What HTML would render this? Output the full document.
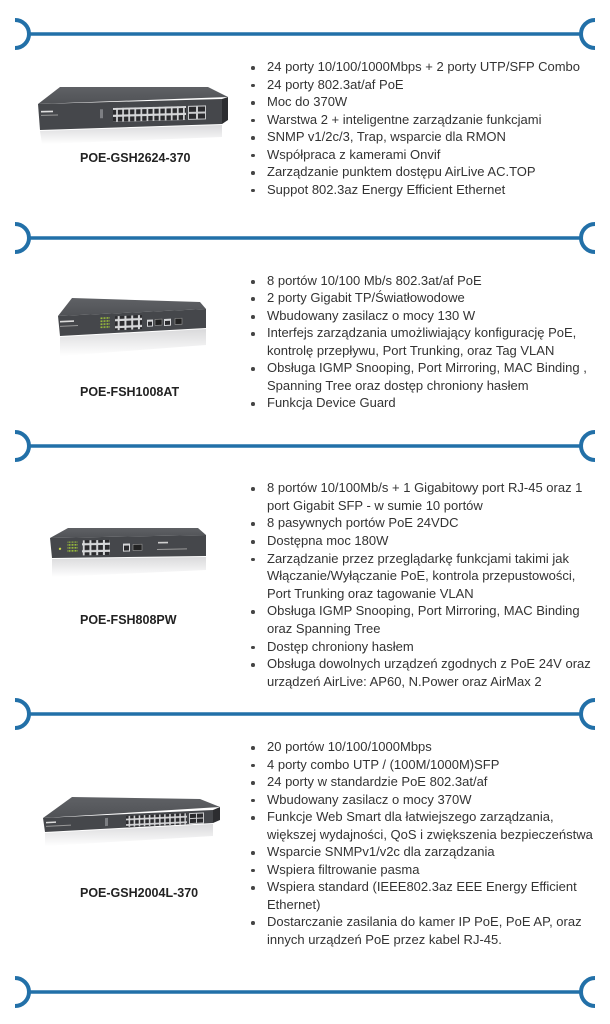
<!DOCTYPE html>
<html>
<head>
<meta charset="utf-8">
<style>
html,body{margin:0;padding:0;background:#fff;}
body{width:610px;height:1024px;position:relative;overflow:hidden;}
svg.bg{position:absolute;left:0;top:0;}
.list{position:absolute;left:267px;font-family:"Liberation Sans","DejaVu Sans",sans-serif;font-size:13px;line-height:17.6px;color:#333;white-space:nowrap;}
.li{position:relative;}
.li::before{content:"";position:absolute;left:-16px;top:8px;width:3.6px;height:3.6px;border-radius:50%;background:#444;}
.name{position:absolute;left:80px;font-family:"Liberation Sans","DejaVu Sans",sans-serif;font-weight:bold;font-size:12.5px;line-height:18px;color:#222;white-space:nowrap;}
</style>
</head>
<body>
<svg class="bg" width="610" height="1024" viewBox="0 0 610 1024" xmlns="http://www.w3.org/2000/svg">
<defs>
<linearGradient id="refl" x1="0" y1="0" x2="0" y2="1">
<stop offset="0" stop-color="#d9d9db"/>
<stop offset="1" stop-color="#ffffff"/>
</linearGradient>
<linearGradient id="topg" x1="0" y1="0" x2="0" y2="1">
<stop offset="0" stop-color="#5f6165"/>
<stop offset="1" stop-color="#505256"/>
</linearGradient>
<pattern id="p1" patternUnits="userSpaceOnUse" width="6.08" height="7">
<rect width="6.08" height="7" fill="#d6d7d9"/>
<rect x="0.8" y="1" width="4.4" height="4.8" fill="#2b2b2e"/>
</pattern>
<pattern id="p2" patternUnits="userSpaceOnUse" width="6.75" height="7">
<rect width="6.75" height="7" fill="#d6d7d9"/>
<rect x="0.9" y="1" width="4.8" height="4.8" fill="#2b2b2e"/>
</pattern>
<pattern id="p4" patternUnits="userSpaceOnUse" width="5.08" height="5.5">
<rect width="5.08" height="5.5" fill="#d6d7d9"/>
<rect x="0.7" y="0.8" width="3.6" height="3.8" fill="#2b2b2e"/>
</pattern>
<pattern id="led" patternUnits="userSpaceOnUse" width="3" height="3">
<rect width="3" height="3" fill="#45474b"/>
<rect x="0.5" y="0.5" width="2" height="1.6" fill="#9bbf3a"/>
</pattern>
</defs>

<!-- dividers -->
<g stroke="#2270a8" fill="none">
<line x1="28" y1="34" x2="582" y2="34" stroke-width="3.5"/>
<path d="M15 20 A14 14 0 0 1 15 48" stroke-width="4"/>
<path d="M595 20 A14 14 0 0 0 595 48" stroke-width="4"/>

<line x1="28" y1="238" x2="582" y2="238" stroke-width="3.5"/>
<path d="M15 224 A14 14 0 0 1 15 252" stroke-width="4"/>
<path d="M595 224 A14 14 0 0 0 595 252" stroke-width="4"/>

<line x1="28" y1="446" x2="582" y2="446" stroke-width="3.5"/>
<path d="M15 432 A14 14 0 0 1 15 460" stroke-width="4"/>
<path d="M595 432 A14 14 0 0 0 595 460" stroke-width="4"/>

<line x1="28" y1="714" x2="582" y2="714" stroke-width="3.5"/>
<path d="M15 700 A14 14 0 0 1 15 728" stroke-width="4"/>
<path d="M595 700 A14 14 0 0 0 595 728" stroke-width="4"/>

<line x1="28" y1="992" x2="582" y2="992" stroke-width="3.5"/>
<path d="M15 978 A14 14 0 0 1 15 1006" stroke-width="4"/>
<path d="M595 978 A14 14 0 0 0 595 1006" stroke-width="4"/>
</g>

<!-- switch 1 -->
<polygon points="40,131 222,125 222,137 42,144" fill="url(#refl)"/>
<polygon points="60,87 208,87 228,97 38,104" fill="url(#topg)"/>
<polygon points="38,104 222,99 222,124 40,130" fill="#45474b"/>
<polygon points="222,99 228,97 228,120 222,124" fill="#2c2d30"/>
<g transform="translate(38,104) skewY(-1.56)">
<rect x="3" y="7" width="12" height="1.6" fill="#e0e0e0"/>
<rect x="3" y="11" width="17" height="1" fill="#9a9a9a"/>
<rect x="62" y="7" width="3" height="9" fill="#7d7f83"/>
<rect x="75" y="6" width="73" height="14" fill="url(#p1)"/>
<rect x="150" y="6" width="18" height="14" fill="#c9cacc"/>
<rect x="151" y="7" width="7" height="5" fill="#2b2b2e"/>
<rect x="160" y="7" width="7" height="5" fill="#2b2b2e"/>
<rect x="151" y="14" width="7" height="5" fill="#2b2b2e"/>
<rect x="160" y="14" width="7" height="5" fill="#2b2b2e"/>
</g>

<!-- switch 2 -->
<polygon points="60,337 206,329 206,345 60,356" fill="url(#refl)"/>
<polygon points="72,298 200,302 206,309 58,316" fill="url(#topg)"/>
<polygon points="58,316 206,309 206,328 60,336" fill="#45474b"/>
<g transform="translate(58,316) skewY(-2.7)">
<rect x="2" y="5" width="14" height="1.6" fill="#dcdcdc"/>
<rect x="2" y="10" width="18" height="1" fill="#999"/>
<rect x="42" y="3" width="10" height="12" fill="url(#led)"/>
<rect x="57" y="3" width="27" height="14" fill="url(#p2)"/>
<rect x="89" y="8" width="6" height="7" fill="#d6d7d9"/>
<rect x="90" y="10" width="4" height="4" fill="#2b2b2e"/>
<rect x="97" y="8" width="7" height="6" fill="#222" stroke="#999" stroke-width="0.6"/>
<rect x="106" y="8" width="7" height="7" fill="#d6d7d9"/>
<rect x="107" y="10" width="5" height="4" fill="#2b2b2e"/>
<rect x="117" y="8" width="7" height="6" fill="#222" stroke="#999" stroke-width="0.6"/>
</g>

<!-- switch 3 -->
<polygon points="52,559 206,557 206,570 52,577" fill="url(#refl)"/>
<polygon points="68,528 198,528 206,535 50,538" fill="url(#topg)"/>
<polygon points="50,538 206,535 206,556 52,558" fill="#45474b"/>
<g transform="translate(50,538) skewY(-1.1)">
<circle cx="10" cy="11" r="1.2" fill="#c8d84a"/>
<rect x="17" y="4" width="11" height="11" fill="url(#led)"/>
<rect x="32" y="3" width="28" height="15" fill="url(#p2)"/>
<rect x="73" y="7" width="7" height="8" fill="#d6d7d9"/>
<rect x="74" y="9" width="5" height="5" fill="#2b2b2e"/>
<rect x="83" y="8" width="9" height="6" fill="#222" stroke="#999" stroke-width="0.6"/>
<rect x="108" y="6" width="10" height="1.6" fill="#cfcfcf"/>
<rect x="107" y="13" width="30" height="1" fill="#9a9a9a"/>
</g>

<!-- switch 4 -->
<polygon points="45,833 213,824 213,836 45,846" fill="url(#refl)"/>
<polygon points="72,797 200,799 220,807 43,818" fill="url(#topg)"/>
<polygon points="43,818 213,810 213,823 45,832" fill="#45474b"/>
<polygon points="213,810 220,807 220,820 213,823" fill="#2c2d30"/>
<g transform="translate(43,818) skewY(-2.7)">
<rect x="3" y="4" width="10" height="1.5" fill="#dcdcdc"/>
<rect x="3" y="8" width="25" height="1" fill="#999"/>
<rect x="62" y="3" width="3" height="8" fill="#7d7f83"/>
<rect x="83" y="2" width="61" height="11" fill="url(#p4)"/>
<rect x="146" y="2" width="15" height="11" fill="#c9cacc"/>
<rect x="147" y="3" width="6" height="4" fill="#2b2b2e"/>
<rect x="154" y="3" width="6" height="4" fill="#2b2b2e"/>
<rect x="147" y="8" width="6" height="4" fill="#2b2b2e"/>
<rect x="154" y="8" width="6" height="4" fill="#2b2b2e"/>
</g>
</svg>

<!-- section 1 -->
<div class="name" style="top:149px;">POE-GSH2624-370</div>
<div class="list" style="top:58px;line-height:17.5px;">
<div class="li">24 porty 10/100/1000Mbps + 2 porty UTP/SFP Combo</div>
<div class="li">24 porty 802.3at/af PoE</div>
<div class="li">Moc do 370W</div>
<div class="li">Warstwa 2 + inteligentne zarządzanie funkcjami</div>
<div class="li">SNMP v1/2c/3, Trap, wsparcie dla RMON</div>
<div class="li">Współpraca z kamerami Onvif</div>
<div class="li">Zarządzanie punktem dostępu AirLive AC.TOP</div>
<div class="li">Suppot 802.3az Energy Efficient Ethernet</div>
</div>

<!-- section 2 -->
<div class="name" style="top:383px;">POE-FSH1008AT</div>
<div class="list" style="top:272px;line-height:17.45px;">
<div class="li">8 portów 10/100 Mb/s 802.3at/af PoE</div>
<div class="li">2 porty Gigabit TP/Światłowodowe</div>
<div class="li">Wbudowany zasilacz o mocy 130 W</div>
<div class="li">Interfejs zarządzania umożliwiający konfigurację PoE,<br>kontrolę przepływu, Port Trunking, oraz Tag VLAN</div>
<div class="li">Obsługa IGMP Snooping, Port Mirroring, MAC Binding ,<br>Spanning Tree oraz dostęp chroniony hasłem</div>
<div class="li">Funkcja Device Guard</div>
</div>

<!-- section 3 -->
<div class="name" style="top:611px;">POE-FSH808PW</div>
<div class="list" style="top:479px;line-height:17.64px;">
<div class="li">8 portów 10/100Mb/s + 1 Gigabitowy port RJ-45 oraz 1<br>port Gigabit SFP - w sumie 10 portów</div>
<div class="li">8 pasywnych portów PoE 24VDC</div>
<div class="li">Dostępna moc 180W</div>
<div class="li">Zarządzanie przez przeglądarkę funkcjami takimi jak<br>Włączanie/Wyłączanie PoE, kontrola przepustowości,<br>Port Trunking oraz tagowanie VLAN</div>
<div class="li">Obsługa IGMP Snooping, Port Mirroring, MAC Binding<br>oraz Spanning Tree</div>
<div class="li">Dostęp chroniony hasłem</div>
<div class="li">Obsługa dowolnych urządzeń zgodnych z PoE 24V oraz<br>urządzeń AirLive: AP60, N.Power oraz AirMax 2</div>
</div>

<!-- section 4 -->
<div class="name" style="top:884px;">POE-GSH2004L-370</div>
<div class="list" style="top:738px;line-height:17.55px;">
<div class="li">20 portów 10/100/1000Mbps</div>
<div class="li">4 porty combo UTP / (100M/1000M)SFP</div>
<div class="li">24 porty w standardzie PoE 802.3at/af</div>
<div class="li">Wbudowany zasilacz o mocy 370W</div>
<div class="li">Funkcje Web Smart dla łatwiejszego zarządzania,<br>większej wydajności, QoS i zwiększenia bezpieczeństwa</div>
<div class="li">Wsparcie SNMPv1/v2c dla zarządzania</div>
<div class="li">Wspiera filtrowanie pasma</div>
<div class="li">Wspiera standard (IEEE802.3az EEE Energy Efficient<br>Ethernet)</div>
<div class="li">Dostarczanie zasilania do kamer IP PoE, PoE AP, oraz<br>innych urządzeń PoE przez kabel RJ-45.</div>
</div>
</body>
</html>
